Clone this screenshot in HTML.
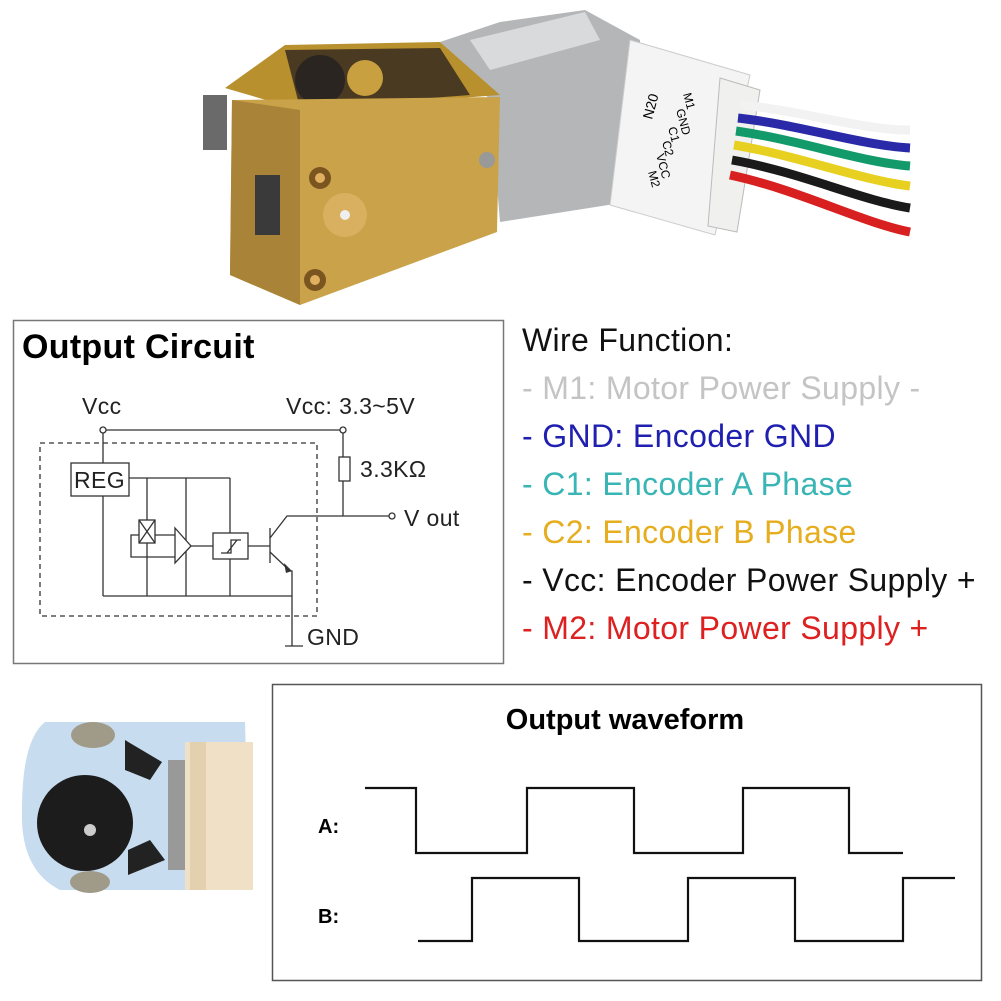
<!DOCTYPE html>
<html><head><meta charset="utf-8"><style>
html,body{margin:0;padding:0;background:#fff;}
body{width:1001px;height:1001px;position:relative;overflow:hidden;font-family:"Liberation Sans",Arial,sans-serif;}
.wf{position:absolute;left:522px;font-size:32px;letter-spacing:0.35px;white-space:nowrap;line-height:34px;}
</style></head><body>
<svg width="1001" height="1001" style="position:absolute;left:0;top:0" font-family="Liberation Sans, Arial, sans-serif">
<rect x="203" y="95" width="24" height="55" fill="#6a6a6a"/>
<polygon points="440,42 500,22 585,10 640,40 640,200 500,222 490,100" fill="#b4b6b8"/>
<polygon points="470,40 585,12 600,40 490,70" fill="#d8dadc"/>
<polygon points="225,88 285,45 440,42 500,95 300,110" fill="#b8902e"/>
<polygon points="285,50 440,48 470,95 300,108" fill="#4a3a22"/>
<circle cx="320" cy="80" r="25" fill="#2a2520"/>
<circle cx="365" cy="78" r="18" fill="#c9a040"/>
<polygon points="232,100 500,97 497,232 300,305 230,275" fill="#c9a24a"/>
<polygon points="232,100 300,110 300,305 230,275" fill="#a98438"/>
<rect x="255" y="175" width="25" height="60" fill="#3a3a3a"/>
<circle cx="320" cy="178" r="11" fill="#7a5520"/><circle cx="320" cy="178" r="5" fill="#e0b060"/>
<circle cx="315" cy="280" r="11" fill="#7a5520"/><circle cx="315" cy="280" r="5" fill="#e0b060"/>
<circle cx="345" cy="215" r="22" fill="#d8b060"/><circle cx="345" cy="215" r="5" fill="#eee"/>
<circle cx="487" cy="160" r="8" fill="#999"/>
<polygon points="630,40 750,75 715,235 610,205" fill="#f4f4f4" stroke="#ccc"/>
<polygon points="720,78 760,90 737,232 708,226" fill="#f0f0ee" stroke="#bbb"/>
<g fill="none" stroke-width="9">
<path d="M740,105 C800,110 860,130 910,130" stroke="#f2f2f2"/>
<path d="M738,118 C800,125 860,145 910,148" stroke="#2a2aa8"/>
<path d="M736,131 C800,140 860,162 910,166" stroke="#129a6a"/>
<path d="M734,145 C800,156 860,180 910,186" stroke="#e8d020"/>
<path d="M732,160 C800,172 860,200 910,208" stroke="#1a1a1a"/>
<path d="M730,175 C800,190 860,222 910,232" stroke="#d82020"/>
</g>
<text x="0" y="0" font-size="14" transform="translate(652,120) rotate(-75)">N20</text>
<text font-size="12" transform="translate(683,94) rotate(75)">M1</text>
<text font-size="12" transform="translate(676,110) rotate(75)">GND</text>
<text font-size="12" transform="translate(668,128) rotate(75)">C1</text>
<text font-size="12" transform="translate(662,142) rotate(75)">C2</text>
<text font-size="12" transform="translate(656,155) rotate(75)">VCC</text>
<text font-size="12" transform="translate(648,172) rotate(75)">M2</text>

<rect x="13.5" y="320.5" width="490" height="343" fill="none" stroke="#777" stroke-width="1.5"/>
<text x="22" y="358" font-size="34" font-weight="bold" letter-spacing="0.3">Output Circuit</text>
<g stroke="#333" stroke-width="1.3" fill="none">
<rect x="40" y="443" width="277" height="173" stroke-dasharray="5,4"/>
<line x1="103" y1="430" x2="343" y2="430"/>
<line x1="103" y1="430" x2="103" y2="463"/>
<rect x="71" y="463" width="58" height="33" fill="#fff"/>
<line x1="103" y1="496" x2="103" y2="596"/>
<line x1="103" y1="596" x2="292" y2="596"/>
<line x1="129" y1="478" x2="230" y2="478"/>
<line x1="147" y1="478" x2="147" y2="596"/>
<line x1="186" y1="478" x2="186" y2="596"/>
<line x1="230" y1="478" x2="230" y2="596"/>
<rect x="139" y="520" width="16" height="23" fill="#fff"/>
<path d="M139,520 L155,543 M155,520 L139,543"/>
<path d="M155,535 L175,535 M131,535 L139,535 L131,535 L131,557 L175,557"/>
<polygon points="175,528 191,546 175,563" fill="#fff"/>
<line x1="191" y1="546" x2="213" y2="546"/>
<rect x="213" y="533" width="35" height="26" fill="#fff"/>
<path d="M221,553 L231,553 L231,540 L241,540 M227,553 L237,540"/>
<line x1="248" y1="546" x2="270" y2="546"/>
<line x1="270" y1="528" x2="270" y2="563"/>
<path d="M270,538 L287,516 L389,516"/>
<path d="M270,552 L290,571 L292,571 L292,646"/>
<line x1="285" y1="646" x2="303" y2="646"/>
<line x1="343" y1="430" x2="343" y2="457"/>
<rect x="339" y="457" width="11" height="24"/>
<line x1="343" y1="481" x2="343" y2="516"/>
<circle cx="103" cy="430" r="3" fill="#fff"/>
<circle cx="343" cy="430" r="3" fill="#fff"/>
<circle cx="392" cy="516" r="3" fill="#fff"/>
</g>
<polygon points="284,563 292,571 286,573" fill="#333"/>
<g font-size="23" fill="#222" letter-spacing="0.4">
<text x="82" y="414">Vcc</text>
<text x="286" y="414">Vcc: 3.3~5V</text>
<text x="74" y="488">REG</text>
<text x="360" y="477">3.3KΩ</text>
<text x="404" y="526">V out</text>
<text x="307" y="645">GND</text>
</g>

<path d="M45,722 L245,722 L250,890 L60,890 Q20,870 22,810 Q22,740 45,722 Z" fill="#c8dcef"/>
<ellipse cx="93" cy="735" rx="22" ry="13" fill="#a09a88"/>
<ellipse cx="90" cy="882" rx="20" ry="11" fill="#a09a88"/>
<circle cx="85" cy="823" r="48" fill="#1c1c1c"/>
<circle cx="90" cy="830" r="6" fill="#ccc"/>
<polygon points="125,740 162,762 150,780 125,770" fill="#222"/>
<polygon points="128,875 165,860 150,840 128,850" fill="#222"/>
<rect x="168" y="760" width="18" height="110" fill="#999"/>
<rect x="185" y="742" width="68" height="148" fill="#efe0c6"/>
<rect x="190" y="742" width="16" height="148" fill="#e3d0ae"/>

<rect x="272.5" y="684.5" width="709" height="296" fill="none" stroke="#555" stroke-width="1.5"/>
<text x="625" y="729" font-size="29" font-weight="bold" text-anchor="middle">Output waveform</text>
<text x="318" y="833" font-size="20" font-weight="bold">A:</text>
<text x="318" y="923" font-size="20" font-weight="bold">B:</text>
<g stroke="#111" stroke-width="2.2" fill="none">
<path d="M365,788 L416,788 L416,853 L527,853 L527,788 L634,788 L634,853 L743,853 L743,788 L849,788 L849,853 L903,853"/>
<path d="M418,941 L472,941 L472,878 L579,878 L579,941 L688,941 L688,878 L795,878 L795,941 L903,941 L903,878 L955,878"/>
</g>
</svg>
<div class="wf" style="top:323px;color:#111;">Wire Function:</div>
<div class="wf" style="top:371px;color:#c4c4c4;">- M1: Motor Power Supply -</div>
<div class="wf" style="top:419px;color:#1f1fb0;">- GND: Encoder GND</div>
<div class="wf" style="top:467px;color:#3ab5b5;">- C1: Encoder A Phase</div>
<div class="wf" style="top:515px;color:#e6ad1e;">- C2: Encoder B Phase</div>
<div class="wf" style="top:563px;color:#111;">- Vcc: Encoder Power Supply +</div>
<div class="wf" style="top:611px;color:#dd2020;">- M2: Motor Power Supply +</div>
</body></html>
